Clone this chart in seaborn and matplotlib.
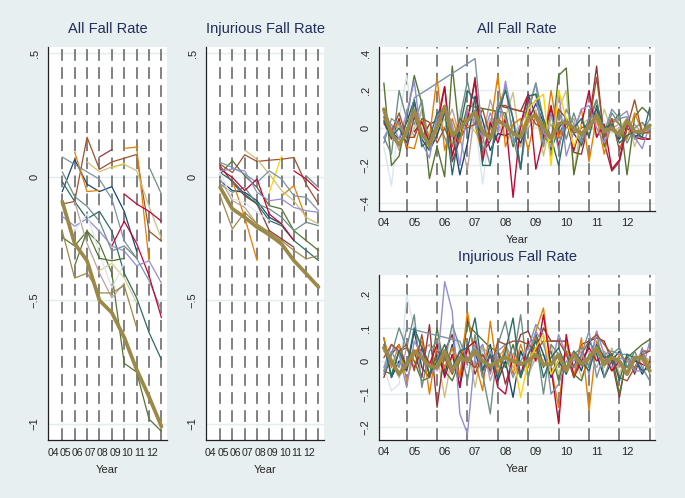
import numpy as np
import pandas as pd
import matplotlib.pyplot as plt
import seaborn as sns

nan = np.nan

# ---- axes / labels ----
years = [4, 5, 6, 7, 8, 9, 10, 11, 12]
year_labels = ["04", "05", "06", "07", "08", "09", "10", "11", "12"]
quarters = [y + q / 4 for y in years for q in range(4)]
annual_x = [y + 0.75 for y in years]

# Stata s2color palette
C = {
    "navy": "#1a476f", "maroon": "#90353b", "forest": "#55752f", "dkorange": "#e37e00",
    "teal": "#6e8e84", "cranberry": "#c10534", "lavender": "#938dd2", "khaki": "#cac27e",
    "sienna": "#a0522d", "emidblue": "#7b92a8", "emerald": "#2d6d66", "brown": "#9c8847",
    "erose": "#bfa19c", "gold": "#ffd200", "bluishgray": "#d9e6eb",
}

# ---- annual, All Fall Rate (04..12) ----
a_thick = [-0.10, -0.27, -0.34, -0.50, -0.55, -0.65, -0.78, -0.89, -1.01]
a_forest = [-0.245, -0.28, -0.22, -0.27, -0.39, -0.755, -0.79, -0.98, -1.03]
a_navy = [-0.06, 0.07, -0.03, -0.06, -0.04, -0.14, -0.30, nan, nan]
a_sienna = [-0.11, -0.10, 0.16, 0.03, 0.06, 0.075, 0.09, -0.22, -0.26]
a_maroon = [nan, nan, nan, 0.08, 0.11, nan, nan, nan, nan]
a_dkorange = [nan, 0.10, -0.06, -0.055, nan, nan, nan, nan, nan]
a_dkorange2 = [nan, nan, nan, nan, nan, 0.115, 0.12, -0.34, nan]
a_gold = [nan, nan, nan, nan, 0.035, 0.055, nan, nan, nan]
a_khaki = [nan, nan, 0.06, 0.02, 0.04, 0.05, 0.025, -0.12, -0.25]
a_emidblue = [0.08, 0.05, 0.02, -0.01, -0.09, -0.26, -0.33, -0.42, -0.54]
a_teal = [0.02, -0.08, -0.12, -0.18, -0.30, -0.28, -0.33, nan, nan]
a_teal2 = [nan, nan, nan, nan, nan, nan, nan, 0.04, -0.07]
a_emerald = [-0.02, -0.10, -0.17, -0.14, -0.22, -0.39, -0.49, -0.63, -0.74]
a_cranberry = [nan, nan, nan, nan, -0.28, -0.18, -0.27, -0.40, -0.57]
a_cranberry2 = [nan, nan, nan, nan, nan, -0.07, -0.11, -0.14, -0.18]
a_lavender = [-0.16, -0.20, -0.17, -0.22, -0.28, -0.30, -0.36, -0.34, -0.43]
a_erose = [nan, -0.10, -0.27, -0.39, -0.49, -0.43, nan, nan, nan]
a_khaki2 = [nan, nan, nan, -0.38, -0.35, -0.41, -0.51, nan, nan]
a_brown2 = [-0.22, -0.41, -0.39, -0.47, -0.47, -0.44, -0.61, nan, nan]
a_bluishgray = [nan, -0.22, -0.15, -0.31, -0.45, -0.35, nan, nan, nan]
a_forest2 = [nan, -0.36, -0.22, -0.33, -0.34, -0.33, nan, nan, nan]

# ---- annual, Injurious Fall Rate (04..12) ----
b_thick = [-0.043, -0.130, -0.164, -0.204, -0.234, -0.272, -0.339, -0.392, -0.446]
b_sienna = [0.051, 0.017, 0.089, 0.062, 0.067, 0.071, 0.078, -0.030, -0.110]
b_khaki = [nan, nan, 0.108, 0.071, 0.011, -0.056, -0.097, -0.164, -0.191]
b_gold = [nan, nan, nan, nan, -0.063, 0.085, nan, nan, nan]
b_forest = [0.011, 0.065, 0.004, -0.043, -0.117, -0.130, -0.218, -0.258, -0.298]
b_cranberry = [0.031, -0.003, -0.056, -0.009, -0.151, -0.191, -0.258, nan, nan]
b_cranberry2 = [nan, nan, nan, nan, nan, nan, 0.024, -0.009, -0.056]
b_dkorange = [nan, -0.016, -0.164, -0.339, nan, nan, nan, nan, nan]
b_dkorange2 = [nan, nan, nan, nan, nan, -0.077, -0.036, -0.171, nan]
b_emidblue = [0.058, 0.038, 0.011, -0.023, 0.024, -0.009, -0.077, -0.083, -0.137]
b_lavender = [0.024, 0.031, 0.024, -0.063, -0.097, -0.090, -0.124, -0.137, -0.144]
b_teal = [-0.030, -0.063, -0.043, -0.110, -0.130, -0.164, -0.218, -0.184, -0.198]
b_emerald = [0.017, -0.016, -0.070, -0.110, -0.177, -0.198, -0.258, -0.298, -0.339]
b_maroon = [0.044, -0.023, -0.077, -0.110, -0.218, -0.251, -0.285, nan, nan]
b_brown2 = [-0.077, -0.211, -0.144, -0.191, -0.224, -0.258, -0.298, -0.332, -0.319]
b_teal2 = [nan, nan, nan, nan, nan, nan, nan, 0.004, -0.043]
b_erose = [-0.009, -0.097, -0.124, -0.191, -0.245, -0.258, nan, nan, nan]
b_bluishgray = [0.017, -0.090, -0.103, -0.144, -0.177, nan, nan, nan, nan]
b_navy = [-0.016, -0.056, -0.063, -0.097, -0.164, -0.191, nan, nan, nan]

# ---- quarterly, All Fall Rate (04q1..12q4) ----
c_thick = [0.10, -0.03, -0.09, -0.02, 0.094, -0.03, -0.09, 0.005, 0.115, -0.04, 0.00, 0.04,
           0.085, -0.02, -0.057, 0.04, 0.014, -0.03, -0.048, 0.05, 0.068, 0.005, -0.057, 0.023,
           0.032, 0.00, -0.03, 0.005, 0.068, -0.02, 0.00, -0.04, 0.04, -0.02, -0.02, 0.014]
c_navy = [0.06, -0.02, -0.06, 0.03, 0.15, -0.06, -0.12, -0.04, 0.08, -0.02, -0.25, -0.08,
          0.17, 0.04, -0.12, -0.03, -0.04, -0.02, -0.08, 0.04, 0.13, 0.03, -0.12, 0.00,
          0.05, -0.03, -0.09, 0.04, 0.10, -0.03, 0.02, -0.06, 0.03, -0.05, -0.02, 0.01]
c_maroon = [0.03, -0.06, 0.05, -0.11, 0.06, -0.05, 0.02, 0.04, 0.22, -0.18, -0.06, 0.02,
            0.27, -0.13, -0.07, 0.12, 0.11, 0.10, 0.09, 0.18, 0.06, -0.05, 0.10, -0.04,
            0.05, -0.13, -0.14, 0.03, 0.33, -0.08, -0.23, -0.18, 0.00, -0.04, -0.05, -0.06]
c_forest = [0.24, -0.20, -0.15, 0.05, 0.28, 0.13, -0.27, -0.10, -0.26, 0.33, -0.05, 0.12,
            nan, nan, nan, nan, 0.08, -0.10, 0.00, 0.17, 0.18, -0.05, -0.08, 0.28,
            0.32, -0.25, -0.05, 0.05, 0.15, -0.10, 0.02, 0.08, -0.25, 0.06, 0.11, 0.07]
c_dkorange = [0.05, -0.02, 0.03, -0.10, -0.11, 0.04, -0.05, 0.27, -0.12, 0.05, -0.08, 0.10,
              0.02, -0.15, 0.00, 0.28, -0.10, 0.02, 0.05, -0.12, 0.08, -0.10, 0.20, -0.05,
              0.04, -0.02, 0.10, -0.18, 0.06, -0.14, 0.05, 0.02, -0.06, 0.08, -0.02, -0.03]
c_cranberry = [nan, nan, nan, nan, -0.02, 0.03, -0.08, 0.00, 0.22, -0.15, 0.00, 0.05,
               0.25, -0.18, 0.03, -0.08, 0.05, -0.37, 0.02, 0.18, -0.22, -0.05, 0.12, -0.10,
               0.05, -0.12, 0.02, 0.20, -0.05, 0.02, -0.22, -0.17, 0.03, -0.05, -0.06, -0.06]
c_teal = [-0.05, -0.14, 0.20, 0.05, 0.02, 0.15, -0.12, 0.05, -0.05, -0.15, 0.05, 0.25,
          0.05, -0.12, 0.00, 0.10, 0.22, -0.05, -0.22, 0.08, 0.24, 0.05, -0.15, 0.10,
          -0.06, 0.08, -0.05, 0.02, 0.15, -0.05, 0.08, 0.02, -0.08, 0.00, 0.03, -0.02]
c_lavender = [-0.05, 0.02, -0.06, 0.08, 0.25, -0.08, -0.16, 0.06, 0.12, 0.02, -0.20, 0.10,
              0.02, -0.05, 0.08, -0.02, 0.25, 0.05, -0.22, 0.10, 0.15, -0.02, -0.10, 0.20,
              -0.15, -0.02, 0.10, 0.12, 0.00, -0.08, 0.02, 0.06, 0.09, -0.05, -0.11, 0.02]
c_emidblue = [-0.08, 0.05, 0.02, -0.04, 0.16, nan, nan, nan, nan, nan, nan, nan,
              0.37, -0.05, -0.20, 0.14, 0.05, -0.08, 0.02, 0.10, 0.24, -0.10, 0.08, -0.12,
              0.10, 0.02, -0.08, 0.05, 0.08, -0.02, 0.10, 0.05, 0.06, -0.06, -0.03, 0.05]
c_gold = [nan, nan, nan, nan, nan, nan, nan, nan, nan, nan, nan, nan,
          nan, nan, nan, nan, nan, nan, -0.05, 0.10, 0.15, 0.18, -0.20, 0.20,
          0.05, -0.10, 0.02, nan, nan, nan, nan, nan, nan, nan, nan, nan]
c_khaki = [0.08, -0.05, 0.02, -0.08, 0.00, 0.10, -0.05, -0.02, 0.05, -0.08, 0.05, 0.02,
           -0.02, -0.08, 0.05, -0.03, 0.06, 0.19, -0.10, 0.02, 0.10, -0.15, 0.05, 0.10,
           0.20, -0.24, 0.02, 0.05, -0.05, 0.10, -0.02, 0.00, 0.05, -0.10, 0.02, 0.00]
c_bluishgray = [-0.10, -0.31, 0.05, 0.28, -0.02, 0.08, -0.05, 0.02, 0.05, -0.08, 0.10, 0.00,
                0.05, -0.30, 0.02, -0.05, 0.08, 0.00, -0.10, 0.05, 0.00, 0.03, -0.05, 0.02,
                -0.05, 0.00, 0.05, -0.02, 0.02, 0.04, -0.03, 0.00, 0.05, -0.02, 0.00, 0.04]
c_emerald = [0.04, -0.05, 0.00, -0.08, 0.14, -0.10, -0.06, 0.08, 0.10, -0.25, 0.00, 0.20,
             0.15, -0.20, -0.20, 0.08, 0.20, 0.05, -0.22, 0.17, 0.18, 0.05, -0.05, -0.20,
             0.03, 0.00, 0.05, -0.05, 0.12, 0.00, 0.02, -0.08, -0.04, -0.02, -0.05, 0.11]
c_erose = [0.02, 0.00, -0.12, 0.05, -0.05, 0.10, -0.08, 0.03, 0.00, 0.10, -0.05, -0.22,
           0.10, -0.05, 0.15, 0.02, -0.05, 0.05, -0.10, 0.00, 0.05, -0.05, 0.02, -0.08,
           0.00, 0.05, -0.10, 0.02, 0.03, -0.05, 0.00, 0.02, -0.05, 0.02, -0.03, 0.00]
c_sienna = [0.10, -0.02, 0.08, -0.05, -0.05, 0.05, 0.03, -0.08, 0.00, -0.10, 0.05, 0.00,
            0.02, 0.10, -0.05, 0.12, 0.12, 0.10, 0.09, 0.08, 0.02, 0.00, -0.05, 0.10,
            0.05, -0.03, 0.00, 0.02, 0.27, -0.05, 0.05, -0.12, 0.00, 0.15, -0.03, -0.02]

# ---- quarterly, Injurious Fall Rate (04q1..12q4) ----
d_thick = [0.04, 0.00, -0.04, -0.01, 0.03, 0.01, -0.015, -0.02, 0.03, -0.03, 0.01, 0.00,
           0.03, 0.00, -0.015, 0.00, 0.01, 0.00, -0.01, 0.00, 0.02, -0.01, -0.01, 0.02,
           -0.03, 0.02, -0.01, 0.01, 0.04, -0.01, 0.01, 0.00, -0.04, 0.01, 0.01, -0.03]
d_navy = [0.07, -0.05, 0.00, -0.03, 0.09, -0.02, -0.05, 0.02, -0.04, 0.05, -0.08, 0.13,
          0.02, -0.03, 0.05, -0.06, 0.00, -0.11, 0.03, -0.02, 0.08, 0.02, -0.05, 0.00,
          -0.04, 0.02, -0.03, 0.06, 0.02, -0.05, 0.00, 0.03, -0.02, 0.01, -0.04, 0.00]
d_maroon = [-0.05, 0.02, 0.05, -0.02, 0.03, -0.05, 0.11, -0.14, 0.03, 0.08, -0.05, 0.05,
            -0.04, 0.02, -0.02, 0.03, -0.07, 0.01, 0.08, 0.09, 0.03, 0.10, 0.06, 0.06,
            0.06, -0.02, 0.05, 0.06, 0.07, 0.06, 0.00, -0.11, 0.02, -0.04, 0.03, 0.03]
d_forest = [-0.03, -0.04, 0.03, 0.04, 0.00, -0.06, -0.05, 0.10, -0.03, -0.06, 0.00, 0.11,
            nan, nan, 0.04, 0.03, -0.02, 0.05, -0.04, 0.02, 0.08, -0.02, 0.03, -0.06,
            0.03, -0.04, -0.06, 0.02, 0.03, 0.00, 0.02, -0.10, 0.01, 0.03, 0.05, 0.065]
d_dkorange = [0.07, -0.02, 0.05, -0.06, 0.02, 0.06, -0.10, 0.05, -0.02, 0.04, -0.05, 0.15,
              0.00, -0.09, 0.12, -0.04, 0.05, -0.04, 0.05, -0.02, 0.09, 0.16, -0.02, -0.14,
              0.06, -0.05, 0.07, -0.15, 0.06, 0.01, -0.03, 0.02, 0.00, -0.02, 0.02, -0.01]
d_cranberry = [nan, nan, nan, nan, -0.02, 0.04, -0.01, 0.05, -0.05, 0.02, -0.08, 0.04,
               0.06, -0.05, 0.02, -0.08, -0.10, 0.02, -0.05, 0.06, 0.00, 0.14, -0.02, -0.19,
               0.08, -0.05, 0.00, 0.04, 0.00, 0.02, -0.03, 0.00, -0.04, 0.00, -0.01, -0.02]
d_teal = [-0.04, 0.02, 0.10, 0.04, 0.14, -0.08, 0.03, 0.06, 0.00, 0.11, 0.04, -0.06,
          0.08, -0.04, -0.16, 0.05, 0.12, 0.00, 0.14, -0.05, 0.07, -0.10, 0.05, 0.02,
          -0.03, 0.02, 0.04, -0.02, 0.09, -0.05, 0.02, 0.04, -0.02, 0.03, -0.02, -0.06]
d_lavender = [-0.02, 0.05, 0.02, -0.08, 0.06, 0.02, -0.04, -0.02, 0.24, 0.15, -0.16, -0.22,
              0.02, 0.05, -0.04, 0.03, 0.05, 0.00, -0.05, 0.02, 0.09, 0.05, -0.02, 0.08,
              0.02, 0.00, 0.03, -0.04, 0.09, 0.02, -0.02, 0.01, 0.00, -0.03, -0.03, 0.06]
d_emidblue = [-0.03, 0.03, -0.02, 0.10, nan, nan, nan, nan, nan, nan, 0.06, 0.00,
              0.05, -0.05, 0.03, 0.00, 0.02, -0.05, 0.00, 0.04, 0.11, 0.08, -0.10, -0.07,
              0.00, -0.02, 0.02, 0.09, -0.05, 0.02, 0.03, 0.02, 0.02, -0.03, 0.04, -0.04]
d_khaki = [0.03, -0.01, 0.02, -0.03, 0.03, 0.01, -0.04, 0.02, -0.11, 0.02, -0.05, 0.05,
           -0.08, 0.04, 0.02, -0.04, 0.03, -0.02, 0.00, -0.05, 0.04, 0.00, 0.05, -0.04,
           0.03, 0.02, -0.05, 0.00, 0.03, -0.02, 0.04, -0.04, 0.02, -0.03, 0.01, 0.00]
d_bluishgray = [-0.02, -0.09, -0.07, 0.20, 0.10, 0.03, -0.05, 0.00, -0.03, 0.10, 0.02, -0.02,
                0.03, -0.01, 0.02, 0.00, -0.02, 0.01, 0.03, -0.01, 0.02, 0.00, -0.01, 0.02,
                0.00, 0.01, -0.02, 0.02, 0.01, 0.00, 0.02, -0.01, 0.00, 0.02, 0.00, -0.01]
d_emerald = [0.05, -0.05, 0.03, -0.02, 0.10, 0.04, -0.04, 0.00, 0.05, -0.02, 0.03, 0.04,
             0.13, -0.03, 0.02, -0.05, 0.03, 0.13, -0.05, 0.02, 0.06, -0.05, 0.01, 0.04,
             -0.02, 0.03, 0.00, -0.03, 0.05, 0.01, 0.02, -0.06, 0.02, 0.01, -0.03, -0.02]
d_sienna = [0.01, 0.05, 0.03, 0.05, -0.03, 0.08, -0.05, 0.03, 0.01, -0.04, 0.03, 0.00,
            -0.02, 0.02, -0.03, 0.06, 0.05, 0.06, 0.06, 0.05, 0.03, 0.06, 0.06, 0.06,
            0.02, -0.05, 0.02, 0.06, 0.08, 0.05, 0.02, -0.05, -0.06, -0.02, 0.02, 0.03]
d_gold = [nan, nan, nan, nan, nan, nan, nan, nan, nan, nan, nan, nan,
          nan, nan, nan, nan, nan, 0.02, -0.11, 0.00, 0.04, 0.08, -0.04, 0.00,
          nan, nan, nan, nan, nan, nan, nan, nan, nan, nan, nan, nan]
d_erose = [0.03, 0.00, -0.05, 0.04, -0.02, 0.03, 0.05, -0.03, 0.02, -0.04, 0.00, 0.03,
           -0.02, 0.05, -0.06, 0.01, 0.04, -0.02, 0.03, -0.04, 0.01, 0.02, -0.03, 0.00,
           0.02, -0.02, 0.01, 0.03, -0.02, 0.03, 0.00, -0.02, 0.01, -0.02, 0.02, 0.00]

panel_a = {"forest": a_forest, "navy": a_navy, "sienna": a_sienna, "maroon": a_maroon,
           "dkorange": a_dkorange, "dkorange2": a_dkorange2, "gold": a_gold, "khaki": a_khaki,
           "emidblue": a_emidblue, "teal": a_teal, "teal2": a_teal2, "emerald": a_emerald,
           "cranberry": a_cranberry, "cranberry2": a_cranberry2, "lavender": a_lavender,
           "erose": a_erose, "khaki2": a_khaki2, "brown2": a_brown2,
           "bluishgray": a_bluishgray, "forest2": a_forest2}
panel_b = {"forest": b_forest, "navy": b_navy, "sienna": b_sienna, "maroon": b_maroon,
           "dkorange": b_dkorange, "dkorange2": b_dkorange2, "gold": b_gold, "khaki": b_khaki,
           "emidblue": b_emidblue, "teal": b_teal, "teal2": b_teal2, "emerald": b_emerald,
           "cranberry": b_cranberry, "cranberry2": b_cranberry2, "lavender": b_lavender,
           "erose": b_erose, "brown2": b_brown2, "bluishgray": b_bluishgray}
panel_c = {"bluishgray": c_bluishgray, "erose": c_erose, "khaki": c_khaki, "navy": c_navy,
           "maroon": c_maroon, "forest": c_forest, "dkorange": c_dkorange, "teal": c_teal,
           "cranberry": c_cranberry, "lavender": c_lavender, "sienna": c_sienna,
           "emidblue": c_emidblue, "emerald": c_emerald, "gold": c_gold}
panel_d = {"bluishgray": d_bluishgray, "erose": d_erose, "khaki": d_khaki, "navy": d_navy,
           "maroon": d_maroon, "forest": d_forest, "dkorange": d_dkorange, "teal": d_teal,
           "cranberry": d_cranberry, "lavender": d_lavender, "sienna": d_sienna,
           "emidblue": d_emidblue, "emerald": d_emerald, "gold": d_gold}

color_of = dict(C)
color_of.update({"dkorange2": C["dkorange"], "teal2": C["teal"], "cranberry2": C["cranberry"],
                 "khaki2": "#d8cf8a", "brown2": C["brown"], "forest2": C["forest"]})

BG = "#e8eff1"
sns.set_theme(style="white")
plt.rcParams["font.family"] = ["Liberation Sans", "DejaVu Sans"]

fig = plt.figure(figsize=(6.85, 4.98), dpi=100, facecolor=BG)


def draw(rect, xs, series, thick, title, ylim, yticks, ylabels, xlim, xfs, inner_ticks, lw):
    ax = fig.add_axes(rect)
    ax.set_facecolor("white")
    for xv in annual_x:
        ax.axvline(xv, color="#777777", lw=1.3, ls=(0, (6.5, 3.5)), zorder=1)
    rows = []
    for name, vals in series.items():
        rows.append(pd.DataFrame({"x": xs, "v": vals, "s": name}))
    long = pd.concat(rows).dropna()
    sns.lineplot(data=long, x="x", y="v", hue="s", palette=color_of, estimator=None,
                 sort=True, lw=lw, legend=False, ax=ax, zorder=3)
    sns.lineplot(x=xs, y=thick, color=C["brown"], lw=2.7, estimator=None, ax=ax, zorder=4)
    ax.set_xlim(*xlim)
    ax.set_ylim(*ylim)
    ax.set_yticks(yticks)
    ax.set_yticklabels(ylabels, rotation=90, va="center", fontsize=8)
    ax.set_xticks(years)
    ax.set_xticklabels(year_labels, fontsize=xfs)
    ax.yaxis.grid(True, color="#e3ecee", lw=1)
    ax.set_axisbelow(True)
    for s in ["top", "right"]:
        ax.spines[s].set_visible(False)
    for s in ["left", "bottom"]:
        ax.spines[s].set_color("#222222")
        ax.spines[s].set_linewidth(0.9)
    ax.tick_params(axis="y", direction="out", length=4, width=0.8, color="#222222", pad=2)
    if inner_ticks:
        ax.set_xticks([4.0] + annual_x, minor=True)
        ax.tick_params(axis="x", which="major", length=0, pad=5)
        ax.tick_params(axis="x", which="minor", direction="in", length=7, width=0.8,
                       color="#333333")
    else:
        ax.tick_params(axis="x", direction="out", length=4, width=0.8, color="#222222", pad=2)
    ax.set_title(title, fontsize=10.5, color="#1e2d5a", pad=10)
    ax.set_xlabel("Year", fontsize=8, labelpad=5)
    ax.set_ylabel("")
    return ax


draw([48 / 685, 58 / 498, 119 / 685, 393 / 498], annual_x, panel_a, a_thick, "All Fall Rate",
     (-1.065, 0.525), [0.5, 0, -0.5, -1], [".5", "0", "\u2212.5", "\u22121"], (3.6, 13.2), 7.6,
     False, 0.9)
draw([206 / 685, 58 / 498, 118 / 685, 393 / 498], annual_x, panel_b, b_thick, "Injurious Fall Rate",
     (-1.065, 0.525), [0.5, 0, -0.5, -1], [".5", "0", "\u2212.5", "\u22121"], (3.6, 13.2), 7.6,
     False, 0.9)
draw([379 / 685, 287 / 498, 276 / 685, 164 / 498], quarters, panel_c, c_thick, "All Fall Rate",
     (-0.443, 0.432), [0.4, 0.2, 0, -0.2, -0.4], [".4", ".2", "0", "\u2212.2", "\u2212.4"],
     (3.84, 12.92), 8, True, 1.0)
draw([379 / 685, 58 / 498, 276 / 685, 165 / 498], quarters, panel_d, d_thick, "Injurious Fall Rate",
     (-0.239, 0.26), [0.2, 0.1, 0, -0.1, -0.2], [".2", ".1", "0", "\u2212.1", "\u2212.2"],
     (3.84, 12.92), 8, True, 1.0)

fig.savefig("out.png", dpi=100, facecolor=BG)
